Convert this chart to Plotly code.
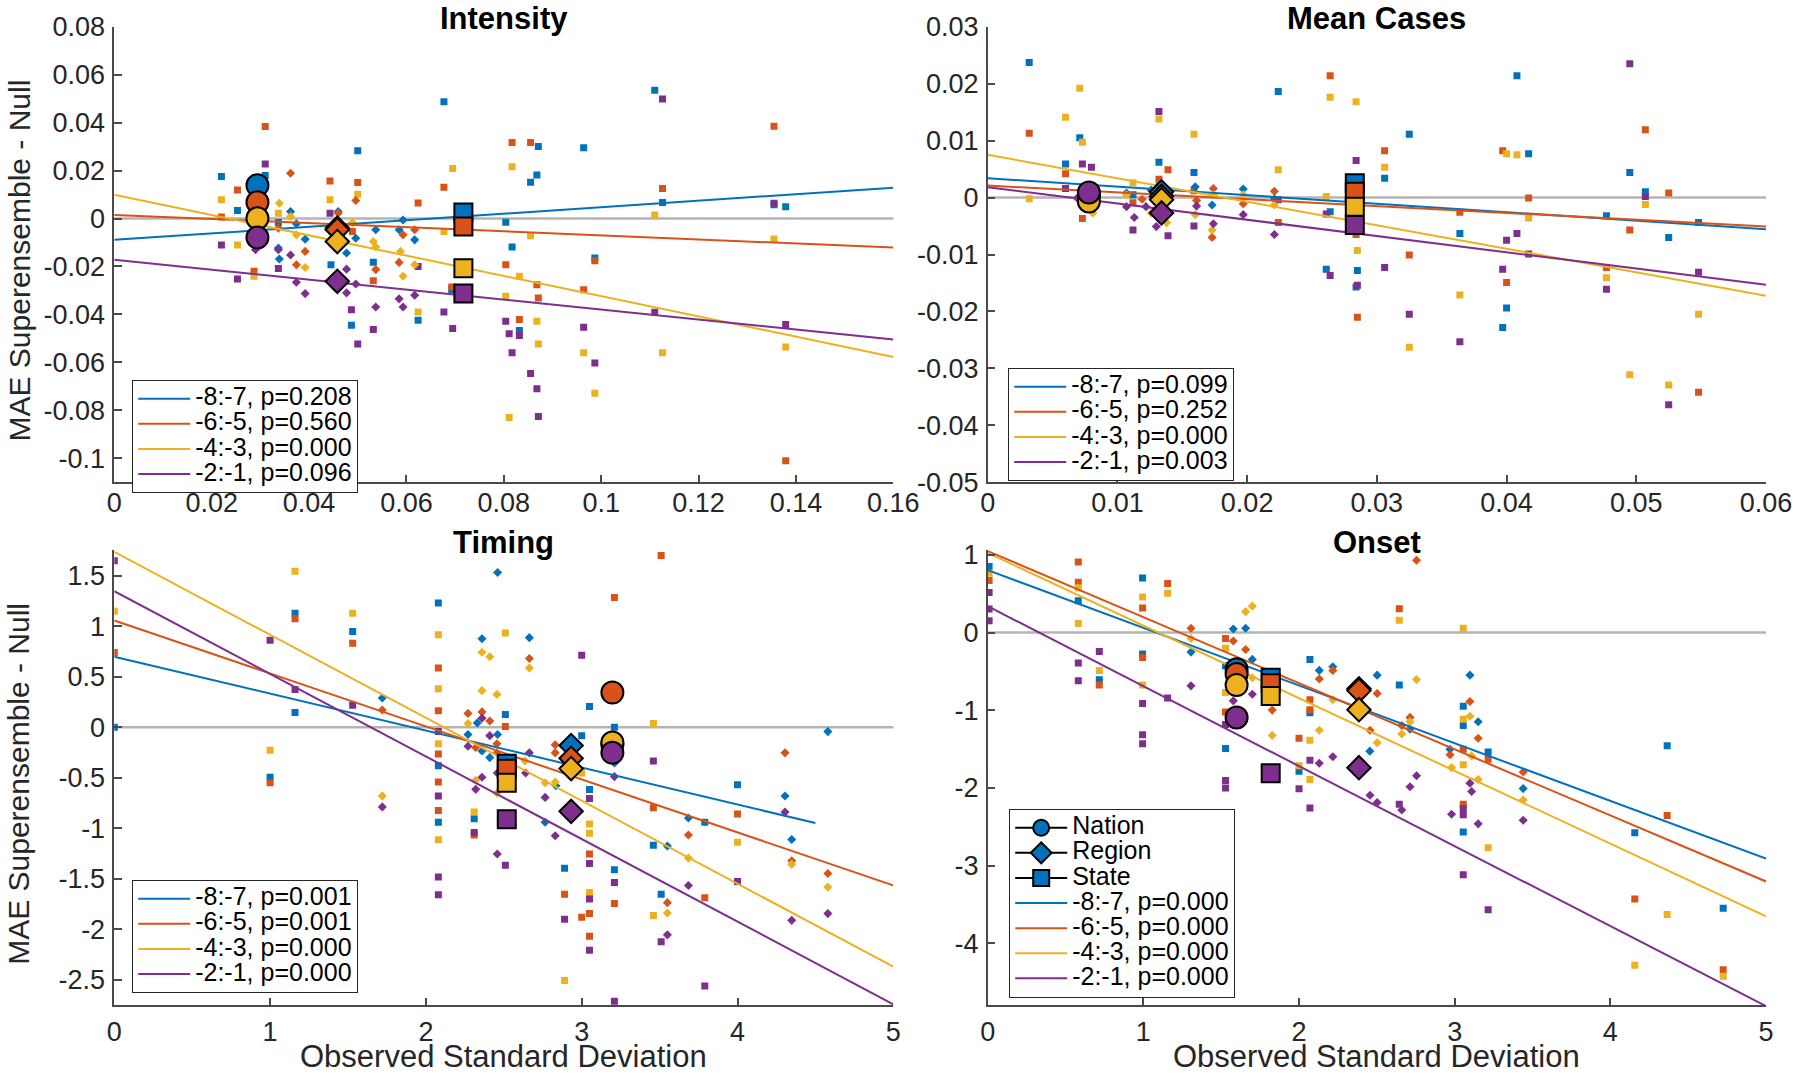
import numpy as np
import plotly.graph_objects as go

# ------------------------------------------------------------------ data
LEADS = ["-8:-7", "-6:-5", "-4:-3", "-2:-1"]
COLORS = ["#0072BD", "#D95319", "#EDB120", "#7E2F8E"]
TITLES = ["Intensity", "Mean Cases", "Timing", "Onset"]
LEVELS = ["Nation", "Region", "State"]

# ---------------- Intensity
INT_P = ["0.208", "0.560", "0.000", "0.096"]
INT_FIT = [(-0.0089, 0.136), (0.0015, -0.085), (0.0099, -0.4226), (-0.0172, -0.2075)]
INT_FIT_XMAX = [0.16, 0.16, 0.16, 0.16]
INT_STATE = [
    [(0.022, 0.0175), (0.0253, 0.0033), (0.031, 0.0179), (0.0337, -0.0017), (0.0445, -0.0193),
     (0.050, 0.0283), (0.0487, -0.0445), (0.0532, -0.0182), (0.0624, -0.0424), (0.0677, 0.0487),
     (0.0693, -0.0297), (0.0804, -0.0015), (0.0817, -0.0119), (0.0832, -0.0467), (0.0855, 0.0151),
     (0.0868, 0.0182), (0.0871, 0.030), (0.0964, 0.0295), (0.0987, -0.0165), (0.111, 0.0535),
     (0.1126, 0.0067), (0.1355, 0.0057), (0.1379, 0.0049)],
    [(0.022, 0.0006), (0.0253, 0.0119), (0.031, 0.0384), (0.0287, -0.022), (0.0443, 0.0157),
     (0.050, 0.015), (0.0489, -0.0054), (0.0532, -0.0259), (0.0624, 0.0065), (0.0677, 0.013),
     (0.0693, -0.0286), (0.0804, -0.0193), (0.0817, 0.0317), (0.0832, -0.0421), (0.0855, 0.0317),
     (0.0868, -0.0276), (0.0871, -0.0331), (0.0964, -0.0297), (0.0987, -0.0176), (0.1126, 0.0125),
     (0.1355, 0.0385), (0.1379, -0.101)],
    [(0.022, 0.0078), (0.0253, -0.011), (0.0287, -0.0241), (0.0337, 0.0022), (0.0443, 0.0078),
     (0.050, 0.0101), (0.0624, -0.039), (0.0677, -0.0054), (0.0695, 0.0209), (0.0804, -0.0324),
     (0.0811, -0.083), (0.0817, 0.0216), (0.0832, -0.0241), (0.0855, -0.0072), (0.0868, -0.0428),
     (0.0871, -0.0523), (0.0964, -0.056), (0.0987, -0.0729), (0.111, 0.0015), (0.1126, -0.056),
     (0.1355, -0.0085), (0.1379, -0.0536)],
    [(0.022, -0.011), (0.0253, -0.0252), (0.031, 0.0227), (0.0337, -0.0208), (0.0443, 0.0022),
     (0.0487, -0.038), (0.050, -0.0523), (0.0532, -0.0463), (0.0624, -0.020), (0.0677, -0.039),
     (0.0695, -0.0459), (0.0804, -0.0428), (0.0811, -0.0481), (0.0817, -0.056), (0.0832, -0.0488),
     (0.0855, -0.0646), (0.0868, -0.071), (0.0871, -0.0826), (0.0964, -0.0453), (0.0987, -0.0602),
     (0.111, -0.0391), (0.1126, 0.0499), (0.1355, 0.0064), (0.1379, -0.0442)],
]
INT_REGION = [
    [(0.0337, -0.0123), (0.0339, -0.0169), (0.0362, 0.0029), (0.0374, -0.0022), (0.0392, -0.0086),
     (0.046, 0.0029), (0.0477, -0.0144), (0.0496, -0.0082), (0.0537, -0.0047), (0.0585, -0.0047),
     (0.0593, -0.0006), (0.0617, -0.0089)],
    [(0.0337, -0.004), (0.0362, 0.0189), (0.0374, -0.0193), (0.0392, -0.0137), (0.046, 0.0022),
     (0.0496, 0.0075), (0.0537, -0.0213), (0.0585, -0.0183), (0.0593, -0.0068), (0.0617, -0.0047)],
    [(0.0339, 0.0064), (0.0362, 0.0008), (0.0374, -0.0068), (0.0392, -0.0204), (0.0489, -0.0017),
     (0.0532, -0.0096), (0.0537, -0.0119), (0.0588, -0.0137), (0.0593, -0.0241), (0.0617, -0.0193)],
    [(0.029, -0.013), (0.0337, -0.013), (0.0362, -0.0152), (0.0374, -0.0266), (0.0392, -0.0313),
     (0.0477, -0.0211), (0.0477, -0.031), (0.0496, -0.0273), (0.0537, -0.0369), (0.0585, -0.0335),
     (0.0593, -0.0369), (0.0617, -0.032)],
]
INT_BIG_X = [0.0294, 0.0458, 0.0717]           # nation, region, state
INT_BIG_Y = [[0.0139, 0.0068, 0.0001, -0.0079],
             [-0.0040, -0.0047, -0.0096, -0.0262],
             [0.0025, -0.0033, -0.0207, -0.0313]]
INT_XTICKS = [0, 0.02, 0.04, 0.06, 0.08, 0.1, 0.12, 0.14, 0.16]
INT_XTEXT = ["0", "0.02", "0.04", "0.06", "0.08", "0.1", "0.12", "0.14", "0.16"]
INT_YTICKS = [-0.1, -0.08, -0.06, -0.04, -0.02, 0, 0.02, 0.04, 0.06, 0.08]
INT_YTEXT = ["-0.1", "-0.08", "-0.06", "-0.04", "-0.02", "0", "0.02", "0.04", "0.06", "0.08"]
INT_XRANGE = [0, 0.16]
INT_YRANGE = [-0.11, 0.08]

# ---------------- Mean Cases
MC_P = ["0.099", "0.252", "0.000", "0.003"]
MC_FIT = [(0.0034, -0.1492), (0.0021, -0.12), (0.0075, -0.4125), (0.0018, -0.285)]
MC_FIT_XMAX = [0.06, 0.06, 0.06, 0.06]
MC_STATE = [
    [(0.0032, 0.0237), (0.006, 0.0059), (0.0071, 0.0105), (0.0112, 0.0005), (0.0132, 0.0062),
     (0.0159, 0.0044), (0.0224, 0.0186), (0.0261, -0.0126), (0.0264, -0.0025), (0.0284, -0.0157),
     (0.0285, -0.0128), (0.0306, 0.0034), (0.0325, 0.0111), (0.0364, -0.0063), (0.0397, -0.0228),
     (0.0400, -0.0194), (0.0408, 0.0214), (0.0417, 0.0077), (0.0477, -0.0032), (0.0495, 0.0044),
     (0.0507, 0.001), (0.0525, -0.007), (0.0548, -0.0044)],
    [(0.0032, 0.0113), (0.006, 0.0042), (0.0073, -0.0037), (0.0112, -0.0009), (0.0132, 0.0032),
     (0.0139, 0.0049), (0.0159, 0.0012), (0.0224, -0.0044), (0.0264, 0.0214), (0.0284, -0.0065),
     (0.0285, -0.021), (0.0306, 0.0082), (0.0325, -0.0101), (0.0364, -0.0026), (0.0397, 0.0082),
     (0.0400, -0.0149), (0.0417, -0.0001), (0.0477, -0.0123), (0.0495, -0.0057), (0.0507, 0.0119),
     (0.0525, 0.0008), (0.0548, -0.0342)],
    [(0.0032, -0.0002), (0.006, 0.0141), (0.0071, 0.0192), (0.0073, 0.0097), (0.0112, 0.0026),
     (0.0132, 0.0138), (0.0159, 0.0111), (0.0224, 0.0049), (0.0261, 0.0002), (0.0264, 0.0176),
     (0.0284, 0.0168), (0.0285, -0.0093), (0.0306, 0.0053), (0.0325, -0.0263), (0.0364, -0.0171),
     (0.0400, 0.0077), (0.0408, 0.0075), (0.0417, -0.0036), (0.0477, -0.0141), (0.0495, -0.0311),
     (0.0507, -0.0012), (0.0525, -0.0329), (0.0548, -0.0205)],
    [(0.006, 0.0016), (0.0073, 0.0059), (0.008, 0.0053), (0.0112, -0.0057), (0.0132, 0.0151),
     (0.0139, -0.0067), (0.0159, -0.005), (0.0224, -0.0004), (0.0261, -0.0029), (0.0264, -0.0137),
     (0.0284, 0.0065), (0.0285, -0.0154), (0.0306, -0.0123), (0.0325, -0.0205), (0.0364, -0.0253),
     (0.0397, -0.0126), (0.0400, -0.0075), (0.0408, -0.0063), (0.0417, -0.0099), (0.0477, -0.0161),
     (0.0495, 0.0235), (0.0507, 0.0002), (0.0525, -0.0364), (0.0548, -0.0131)],
]
MC_REGION = [
    [(0.0107, 0.0008), (0.0126, 0.0013), (0.016, 0.0019), (0.0173, -0.0013), (0.0197, 0.0015),
     (0.0221, -0.0002)],
    [(0.0119, -0.0003), (0.0132, 0.0022), (0.0161, -0.0005), (0.0174, 0.0016), (0.0173, -0.007),
     (0.0197, -0.0011), (0.0221, 0.0011)],
    [(0.0081, -0.0027), (0.0107, 0.0005), (0.0126, -0.0027), (0.0138, -0.0044), (0.016, -0.003),
     (0.0174, 0.0005), (0.0173, -0.0057), (0.0197, 0.0005), (0.0221, -0.0013)],
    [(0.0069, -0.0001), (0.0107, -0.0016), (0.0113, -0.0035), (0.0122, -0.0016), (0.013, -0.0051),
     (0.0161, -0.0015), (0.0174, -0.0046), (0.0197, -0.003), (0.0221, -0.0065)],
]
MC_BIG_X = [0.0078, 0.0134, 0.0283]
MC_BIG_Y = [[0.0005, 0.0003, -0.0007, 0.0009],
            [0.0010, 0.0002, -0.0004, -0.0027],
            [0.0025, 0.0010, -0.0016, -0.0048]]
MC_XTICKS = [0, 0.01, 0.02, 0.03, 0.04, 0.05, 0.06]
MC_XTEXT = ["0", "0.01", "0.02", "0.03", "0.04", "0.05", "0.06"]
MC_YTICKS = [-0.05, -0.04, -0.03, -0.02, -0.01, 0, 0.01, 0.02, 0.03]
MC_YTEXT = ["-0.05", "-0.04", "-0.03", "-0.02", "-0.01", "0", "0.01", "0.02", "0.03"]
MC_XRANGE = [0, 0.06]
MC_YRANGE = [-0.05, 0.03]

# ---------------- Timing
TIM_P = ["0.001", "0.001", "0.000", "0.000"]
TIM_FIT = [(0.698, -0.3656), (1.056, -0.524), (1.735, -0.8206), (1.345, -0.817)]
TIM_FIT_XMAX = [4.5, 5, 5, 5]
TIM_STATE = [
    [(0, 0), (1.0, -0.495), (1.16, 1.128), (1.16, 0.145), (1.53, 0.947), (2.08, 1.229),
     (2.08, -0.38), (2.08, -0.94), (2.31, -0.904), (2.51, 0.127), (2.89, -1.394), (3.0, -0.083),
     (3.05, 0.206), (3.05, -0.615), (3.21, 0.0), (3.21, -1.41), (3.46, -1.166), (3.51, -1.651),
     (3.79, -0.94), (4.0, -0.568)],
    [(0, 0.74), (1.0, -0.55), (1.16, 1.074), (1.53, 0.831), (2.08, 0.586), (2.08, 0.163),
     (2.08, -0.264), (2.08, -0.542), (2.08, -0.824), (2.31, -1.066), (2.51, 0.007), (2.89, -1.651),
     (3.0, -1.879), (3.05, -1.254), (3.05, -1.843), (3.05, -2.066), (3.21, 1.283), (3.21, -1.742),
     (3.46, -0.795), (3.51, 1.699), (3.79, -1.687), (4.0, -0.857)],
    [(0, 1.146), (1.0, -0.227), (1.16, 1.544), (1.53, 1.128), (2.08, 0.915), (2.08, 0.38),
     (2.08, -0.163), (2.08, -1.113), (2.31, -0.839), (2.51, 0.933), (2.89, -2.505), (3.0, -0.452),
     (3.05, -0.958), (3.05, -1.048), (3.05, -1.634), (3.46, 0.036), (3.46, -1.861), (4.0, -1.138)],
    [(0, 1.646), (1.0, 0.86), (1.16, 0.373), (1.53, 0.217), (2.08, -0.043), (2.08, -0.679),
     (2.08, -1.482), (2.08, -1.656), (2.31, -1.041), (2.51, -1.366), (2.89, -1.9), (3.0, 0.712),
     (3.05, -0.705), (3.05, -1.348), (3.05, -1.699), (3.05, -2.205), (3.21, -1.536), (3.21, -2.711),
     (3.46, -0.333), (3.51, -2.122), (3.79, -2.559), (4.0, -1.525)],
]
TIM_REGION = [
    [(1.72, 0.289), (2.27, -0.072), (2.33, 0.043), (2.36, 0.875), (2.36, -0.235), (2.41, -0.3),
     (2.46, -0.072), (2.46, 1.53), (2.664, 0.886), (2.765, -0.94), (2.835, -0.578), (3.21, -0.354),
     (3.55, -1.175), (3.685, -0.897), (4.305, -0.68), (4.348, -1.11), (4.58, -0.043)],
    [(1.72, 0.17), (2.27, 0.137), (2.32, -0.2), (2.36, 0.152), (2.41, 0.062), (2.456, -0.163),
     (2.456, -0.253), (2.664, 0.68), (2.83, -0.174), (2.83, -0.253), (3.55, -1.735), (3.685, -1.066),
     (4.305, -0.253), (4.348, -1.32), (4.58, -1.446)],
    [(1.72, -0.679), (2.27, 0.036), (2.32, -0.524), (2.36, 0.741), (2.36, 0.362), (2.41, 0.697),
     (2.456, 0.325), (2.456, -0.651), (2.636, -0.333), (2.664, 0.586), (2.765, -0.549),
     (2.83, -0.542), (3.55, -1.837), (3.685, -1.294), (4.348, -1.356), (4.58, -1.58)],
    [(1.72, -0.788), (2.27, -0.188), (2.32, -0.614), (2.36, -0.495), (2.36, 0.09), (2.41, -0.083),
     (2.458, -0.452), (2.458, -1.254), (2.64, -0.452), (2.664, -0.253), (2.765, -0.694),
     (2.83, -1.073), (3.21, -0.488), (3.55, -2.053), (3.685, -1.565), (4.305, -0.839),
     (4.348, -1.91), (4.58, -1.843)],
]
TIM_BIG_X = [3.197, 2.932, 2.519]
TIM_BIG_Y = [[-0.17, 0.343, -0.152, -0.253],
             [-0.181, -0.307, -0.409, -0.832],
             [-0.36, -0.41, -0.55, -0.91]]
TIM_XTICKS = [0, 1, 2, 3, 4, 5]
TIM_XTEXT = ["0", "1", "2", "3", "4", "5"]
TIM_YTICKS = [-2.5, -2, -1.5, -1, -0.5, 0, 0.5, 1, 1.5]
TIM_YTEXT = ["-2.5", "-2", "-1.5", "-1", "-0.5", "0", "0.5", "1", "1.5"]
TIM_XRANGE = [0, 5]
TIM_YRANGE = [-2.75, 1.75]

# ---------------- Onset
ONS_P = ["0.000", "0.000", "0.000", "0.000"]
ONS_FIT = [(0.804, -0.743), (1.05, -0.851), (1.027, -0.936), (0.34, -1.03)]
ONS_FIT_XMAX = [5, 5, 5, 5]
ONS_STATE = [
    [(0.009, 0.851), (0.582, 0.411), (0.717, -0.606), (0.995, 0.704), (0.995, -0.274),
     (1.528, -0.426), (1.528, -1.494), (2.0, -1.787), (2.07, -0.345), (2.07, -1.031),
     (2.644, -0.676), (3.055, -0.95), (3.055, -1.196), (3.055, -2.567), (3.215, -1.537),
     (4.157, -2.577), (4.365, -1.456), (4.725, -3.551)],
    [(0.009, 0.671), (0.582, 0.908), (0.582, 0.647), (0.717, -0.676), (0.995, 0.317),
     (0.995, -0.321), (1.156, 0.633), (1.528, -0.076), (1.528, -1.022), (2.0, -1.362),
     (2.07, -0.865), (2.07, -0.993), (2.644, 0.307), (3.055, -1.503), (3.055, -2.212),
     (3.215, -1.631), (4.157, -3.432), (4.365, -2.355), (4.725, -4.341)],
    [(0.009, 0.766), (0.582, 0.577), (0.582, 0.118), (0.717, -0.487), (0.995, 0.459),
     (0.995, -0.676), (1.156, 0.506), (1.528, -0.203), (1.528, -0.771), (2.0, -1.716),
     (2.07, -1.385), (2.07, -1.891), (2.644, 0.16), (3.055, 0.057), (3.055, -1.116),
     (3.055, -1.702), (3.215, -2.771), (4.157, -4.284), (4.365, -3.631), (4.725, -4.426)],
    [(0.009, 0.516), (0.009, 0.303), (0.009, 0.152), (0.582, -0.392), (0.582, -0.619),
     (0.717, -0.242), (0.995, -0.913), (0.995, -1.314), (0.995, -1.432), (1.156, -0.842),
     (1.528, -1.182), (1.528, -1.906), (1.528, -2.0), (2.0, -2.012), (2.07, -1.645),
     (2.07, -2.26), (2.644, -2.212), (3.055, -2.269), (3.055, -2.345), (3.055, -3.12),
     (3.215, -3.57)],
]
ONS_REGION = [
    [(1.306, -0.251), (1.578, 0.047), (1.657, 0.057), (1.7, -0.345), (2.13, -0.487),
     (2.217, -0.44), (2.455, -1.527), (2.502, -0.548), (2.713, -1.243), (2.97, -1.503),
     (3.098, -0.548), (3.151, -1.148), (3.44, -2.009)],
    [(1.306, 0.057), (1.578, -0.109), (1.657, -0.218), (1.828, -0.998), (2.13, -0.596),
     (2.217, -0.487), (2.456, -1.258), (2.502, -0.785), (2.66, -1.196), (2.713, -1.092),
     (2.755, 0.931), (2.97, -1.574), (3.098, -0.888), (3.151, -1.361), (3.44, -1.796)],
    [(1.306, -0.076), (1.657, 0.27), (1.7, 0.341), (1.7, -0.581), (1.828, -1.324), (2.13, -1.258),
     (2.217, -0.865), (2.502, -1.418), (2.66, -1.305), (2.713, -1.148), (2.755, -0.605),
     (2.98, -1.739), (3.098, -1.078), (3.109, -1.588), (3.151, -1.891), (3.44, -2.156)],
    [(1.306, -0.686), (1.578, -0.879), (1.7, -0.794), (2.13, -1.683), (2.217, -1.598),
     (2.456, -2.094), (2.502, -2.189), (2.66, -2.284), (2.713, -1.986), (2.755, -1.844),
     (2.98, -2.34), (3.098, -1.939), (3.109, -2.047), (3.151, -2.463), (3.44, -2.416)],
]
ONS_BIG_X = [1.599, 2.385, 1.818]
ONS_BIG_Y = [[-0.473, -0.534, -0.676, -1.092],
             [-0.723, -0.747, -0.993, -1.74],
             [-0.581, -0.652, -0.818, -1.81]]
ONS_XTICKS = [0, 1, 2, 3, 4, 5]
ONS_XTEXT = ["0", "1", "2", "3", "4", "5"]
ONS_YTICKS = [-4, -3, -2, -1, 0, 1]
ONS_YTEXT = ["-4", "-3", "-2", "-1", "0", "1"]
ONS_XRANGE = [0, 5]
ONS_YRANGE = [-4.8, 1.06]

YLABEL = "MAE Superensemble - Null"
XLABEL = "Observed Standard Deviation"

# ------------------------------------------------------------------ geometry / style
W, H = 1800, 1075
FONT = "Liberation Sans, Arial, sans-serif"
TXT = "#262626"
AXC = "#4a4a4a"

def px_x(p):
    return p / W

def px_y(p):
    return (H - p) / H

X_DOM = [[px_x(114.3), px_x(893.3)], [px_x(987.7), px_x(1766)]]
Y_DOM = [[px_y(482.3), px_y(26.7)], [px_y(1005.3), px_y(550.3)]]
PLOT_TOP = [26.7, 550.3]
X_STANDOFF = [-4, 2]

panels = [
    dict(state=INT_STATE, region=INT_REGION, bx=INT_BIG_X, by=INT_BIG_Y, fit=INT_FIT,
         fitx=INT_FIT_XMAX, p=INT_P, xt=INT_XTICKS, xtt=INT_XTEXT, yt=INT_YTICKS, ytt=INT_YTEXT,
         xr=INT_XRANGE, yr=INT_YRANGE, col=0, row=0, leg=(132, 380)),
    dict(state=MC_STATE, region=MC_REGION, bx=MC_BIG_X, by=MC_BIG_Y, fit=MC_FIT,
         fitx=MC_FIT_XMAX, p=MC_P, xt=MC_XTICKS, xtt=MC_XTEXT, yt=MC_YTICKS, ytt=MC_YTEXT,
         xr=MC_XRANGE, yr=MC_YRANGE, col=1, row=0, leg=(1008, 368)),
    dict(state=TIM_STATE, region=TIM_REGION, bx=TIM_BIG_X, by=TIM_BIG_Y, fit=TIM_FIT,
         fitx=TIM_FIT_XMAX, p=TIM_P, xt=TIM_XTICKS, xtt=TIM_XTEXT, yt=TIM_YTICKS, ytt=TIM_YTEXT,
         xr=TIM_XRANGE, yr=TIM_YRANGE, col=0, row=1, leg=(132, 880)),
    dict(state=ONS_STATE, region=ONS_REGION, bx=ONS_BIG_X, by=ONS_BIG_Y, fit=ONS_FIT,
         fitx=ONS_FIT_XMAX, p=ONS_P, xt=ONS_XTICKS, xtt=ONS_XTEXT, yt=ONS_YTICKS, ytt=ONS_YTEXT,
         xr=ONS_XRANGE, yr=ONS_YRANGE, col=1, row=1, leg=(1009, 809)),
]

BIG_SYMBOLS = ["circle", "diamond", "square"]
BIG_SIZES = [22, 18, 18]

def leg_text(s):
    return '<span style="font-size:25px">' + s + "</span>"

fig = go.Figure()
layout = dict(
    width=W, height=H, autosize=False,
    margin=dict(l=0, r=0, t=0, b=0, pad=0, autoexpand=False),
    paper_bgcolor="white", plot_bgcolor="white",
    font=dict(family=FONT, color=TXT, size=24),
    hovermode=False,
    annotations=[], shapes=[],
)

for k, pn in enumerate(panels, start=1):
    sfx = "" if k == 1 else str(k)
    xa, ya = "x" + sfx, "y" + sfx
    legname = "legend" + sfx

    # small state squares and region diamonds
    for ci in range(4):
        pts = np.array(pn["state"][ci])
        fig.add_trace(go.Scatter(
            x=pts[:, 0], y=pts[:, 1], mode="markers", xaxis=xa, yaxis=ya, showlegend=False,
            marker=dict(symbol="square", size=7, color=COLORS[ci], line=dict(width=0)),
            name=LEADS[ci] + " state"))
    for ci in range(4):
        pts = np.array(pn["region"][ci])
        fig.add_trace(go.Scatter(
            x=pts[:, 0], y=pts[:, 1], mode="markers", xaxis=xa, yaxis=ya, showlegend=False,
            marker=dict(symbol="diamond", size=7, color=COLORS[ci], line=dict(width=0)),
            name=LEADS[ci] + " region"))

    # level legend entries (only shown in the Onset panel)
    if k == 4:
        for li, lv in enumerate(LEVELS):
            fig.add_trace(go.Scatter(
                x=[None], y=[None], mode="lines+markers", xaxis=xa, yaxis=ya,
                legend=legname, name=leg_text(lv),
                line=dict(color="black", width=2),
                marker=dict(symbol=BIG_SYMBOLS[li], size=16, color=COLORS[0],
                            line=dict(color="black", width=2))))

    # regression lines
    for ci in range(4):
        a, b = pn["fit"][ci]
        xs = np.array([0.0, pn["fitx"][ci]])
        fig.add_trace(go.Scatter(
            x=xs, y=a + b * xs, mode="lines", xaxis=xa, yaxis=ya,
            line=dict(color=COLORS[ci], width=2),
            legend=legname, name=leg_text(f"{LEADS[ci]}, p={pn['p'][ci]}")))

    # aggregated markers: nation, region, state
    for li in range(3):
        for ci in range(4):
            fig.add_trace(go.Scatter(
                x=[pn["bx"][li]], y=[pn["by"][li][ci]], mode="markers", xaxis=xa, yaxis=ya,
                showlegend=False, name=LEVELS[li] + " " + LEADS[ci],
                marker=dict(symbol=BIG_SYMBOLS[li], size=BIG_SIZES[li], color=COLORS[ci],
                            line=dict(color="black", width=2))))

    xd = X_DOM[pn["col"]]
    yd = Y_DOM[pn["row"]]
    axis_common = dict(showline=True, linecolor=AXC, linewidth=1.5, mirror=False,
                       ticks="inside", ticklen=8, tickwidth=1.5, tickcolor=AXC,
                       showgrid=False, zeroline=False, automargin=False,
                       tickfont=dict(family=FONT, size=27, color=TXT), tickmode="array")
    layout["xaxis" + sfx] = dict(axis_common, domain=xd, anchor=ya, range=pn["xr"],
                                 tickvals=pn["xt"], ticktext=pn["xtt"],
                                 ticklabelstandoff=X_STANDOFF[pn["row"]])
    layout["yaxis" + sfx] = dict(axis_common, domain=yd, anchor=xa, range=pn["yr"],
                                 tickvals=pn["yt"], ticktext=pn["ytt"], ticklabelstandoff=2)

    # zero reference line
    layout["shapes"].append(dict(type="line", xref=xa + " domain", yref=ya, x0=0, x1=1, y0=0, y1=0,
                                 line=dict(color="#B4B4B4", width=2.5), layer="below"))

    # legend box
    lx, ly = pn["leg"]
    layout[legname] = dict(x=px_x(lx), y=px_y(ly), xanchor="left", yanchor="top",
                           bgcolor="white", bordercolor="#262626", borderwidth=1.2,
                           font=dict(family=FONT, size=17, color="black"),
                           tracegroupgap=0, itemwidth=52)

    # panel title
    xc = (xd[0] + xd[1]) / 2
    layout["annotations"].append(dict(
        text="<b>" + TITLES[k - 1] + "</b>", x=xc, y=px_y(PLOT_TOP[pn["row"]] - 8),
        xref="paper", yref="paper", xanchor="center", yanchor="middle", showarrow=False,
        font=dict(family=FONT, size=31, color="black")))

    # axis labels
    if pn["col"] == 0:
        yc = (yd[0] + yd[1]) / 2 - 6 / H
        layout["annotations"].append(dict(
            text=YLABEL, x=px_x(19), y=yc, xref="paper", yref="paper", textangle=-90,
            xanchor="center", yanchor="middle", showarrow=False,
            font=dict(family=FONT, size=30, color=TXT)))
    if pn["row"] == 1:
        layout["annotations"].append(dict(
            text=XLABEL, x=xc, y=px_y(1056), xref="paper", yref="paper",
            xanchor="center", yanchor="middle", showarrow=False,
            font=dict(family=FONT, size=31, color=TXT)))

fig.update_layout(**layout)
fig.write_html("out.html", config={"displayModeBar": False},
               post_script="document.body.style.margin='0px';")
